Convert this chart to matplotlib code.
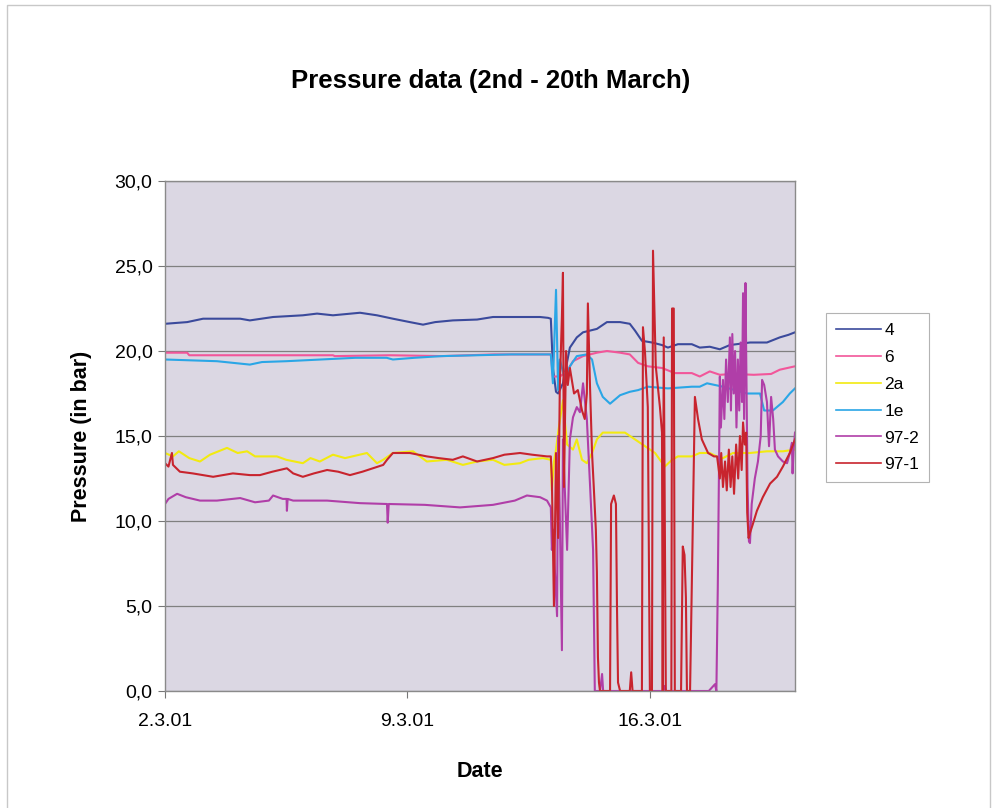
import matplotlib
matplotlib.use("Agg")
import matplotlib.pyplot as plt
from matplotlib.lines import Line2D

plt.rcParams['font.family'] = ['Liberation Sans', 'DejaVu Sans']

# x values are days after 2.3.01 00:00, y values are pressure in bar
tick_days = [0, 7, 14]
tick_labels = ['2.3.01', '9.3.01', '16.3.01']
x_end = 18.19

d_4 = [0, 0.64, 1.10, 2.17, 2.45, 3.12, 3.98, 4.39, 4.85, 5.63, 6.12, 6.58, 7.07, 7.45, 7.8,
       8.31, 9.01, 9.47, 10.25, 10.83, 11.06, 11.14, 11.20, 11.29, 11.35, 11.49, 11.69, 11.89,
       12.07, 12.47, 12.76, 13.14, 13.42, 13.57, 13.77, 14.06, 14.35, 14.52, 14.81, 15.21,
       15.44, 15.73, 16.02, 16.31, 16.89, 17.38, 17.75, 18.0, 18.19]
v_4 = [21.6, 21.7, 21.9, 21.9, 21.8, 22.0, 22.1, 22.2, 22.1, 22.25, 22.1, 21.9, 21.7, 21.55, 21.7,
       21.8, 21.85, 22.0, 22.0, 22.0, 21.95, 21.9, 19.0, 17.6, 17.5, 18.1, 20.2, 20.8,
       21.1, 21.3, 21.7, 21.7, 21.6, 21.2, 20.6, 20.5, 20.35, 20.2, 20.4, 20.4,
       20.2, 20.25, 20.1, 20.35, 20.5, 20.5, 20.8, 20.95, 21.1]

d_6 = [0, 0.64, 0.7, 4.85, 4.9, 6.5, 8.0, 9.5, 11.14, 11.20, 11.40, 11.61, 11.78, 12.07, 12.47,
       12.76, 13.14, 13.42, 13.66, 13.94, 14.35, 14.72, 15.21, 15.44, 15.73, 16.02, 16.4,
       17.0, 17.5, 17.75, 18.19]
v_6 = [19.9, 19.9, 19.75, 19.75, 19.7, 19.75, 19.7, 19.8, 19.8, 18.5, 18.5, 18.8, 19.4, 19.7, 19.9,
       20.0, 19.9, 19.8, 19.3, 19.1, 19.0, 18.7, 18.7, 18.5, 18.8, 18.6, 18.65,
       18.6, 18.65, 18.9, 19.1]

d_2a = [0, 0.23, 0.4, 0.7, 1.01, 1.3, 1.79, 2.1, 2.37, 2.6, 3.23, 3.5, 3.98, 4.2, 4.47, 4.85,
        5.2, 5.83, 6.12, 6.3, 6.58, 7.16, 7.56, 8.14, 8.6, 9.01, 9.47, 9.8, 10.25, 10.5, 10.91,
        11.14, 11.17, 11.23, 11.29, 11.35, 11.49, 11.61, 11.78, 11.89, 12.04, 12.18, 12.33,
        12.47, 12.64, 13.02, 13.28, 13.57, 13.86, 14.15, 14.43, 14.64, 14.81, 15.21, 15.44,
        15.73, 16.02, 16.11, 16.4, 16.89, 17.38, 17.84, 18.19]
v_2a = [14.0, 13.8, 14.1, 13.7, 13.5, 13.9, 14.3, 14.0, 14.1, 13.8, 13.8, 13.6, 13.4, 13.7, 13.5, 13.9,
        13.7, 14.0, 13.4, 13.6, 14.0, 14.1, 13.5, 13.6, 13.3, 13.5, 13.6, 13.3, 13.4, 13.6, 13.7,
        13.6, 11.8, 13.5, 14.2, 15.2, 17.1, 14.5, 14.2, 14.8, 13.6, 13.4, 14.0,
        14.8, 15.2, 15.2, 15.2, 14.8, 14.4, 14.0, 13.2, 13.6, 13.8, 13.8, 14.0,
        14.0, 13.7, 13.7, 14.0, 14.0, 14.1, 14.1, 14.2]

d_1e = [0, 1.5, 2.45, 2.8, 3.5, 4.5, 5.5, 6.4, 6.58, 7.2, 8.0, 9.0, 10.0, 11.14, 11.20, 11.29,
        11.35, 11.40, 11.55, 11.69, 11.89, 12.18, 12.33, 12.47, 12.64, 12.85, 13.14, 13.42,
        13.66, 13.94, 14.52, 15.21, 15.44, 15.65, 16.11, 16.8, 17.18, 17.3, 17.55, 17.84,
        18.04, 18.19]
v_1e = [19.5, 19.4, 19.2, 19.35, 19.4, 19.5, 19.6, 19.6, 19.5, 19.6, 19.7, 19.75, 19.8, 19.8, 18.1, 23.6,
        17.7, 19.5, 18.3, 19.1, 19.7, 19.8, 19.5, 18.1, 17.3, 16.9, 17.4, 17.6,
        17.7, 17.9, 17.8, 17.9, 17.9, 18.1, 17.9, 17.5, 17.5, 16.5, 16.5, 17.0,
        17.5, 17.8]

d_97_2 = [0, 0.1, 0.35, 0.6, 1.01, 1.5, 2.17, 2.6, 3.0, 3.12, 3.4, 3.51, 3.52, 3.54, 3.7, 4.68,
          5.63, 6.41, 6.43, 6.46, 7.5, 8.52, 9.47, 10.1, 10.45, 10.83, 11.03, 11.14, 11.17,
          11.20, 11.32, 11.35, 11.40, 11.46, 11.49, 11.61, 11.69, 11.78, 11.89, 11.98, 12.07,
          12.18, 12.27, 12.36, 12.41, 12.56, 12.62, 12.65, 14.4, 14.43, 14.46, 15.7, 15.88,
          15.92, 15.96, 16.0, 16.02, 16.05, 16.11, 16.15, 16.2, 16.25, 16.31, 16.34, 16.38,
          16.42, 16.46, 16.5, 16.54, 16.58, 16.62, 16.66, 16.69, 16.72, 16.76, 16.79, 16.82,
          16.86, 16.89, 16.94, 17.03, 17.12, 17.2, 17.24, 17.3, 17.38, 17.44, 17.5, 17.56,
          17.61, 17.7, 17.84, 17.96, 18.04, 18.1, 18.12, 18.15, 18.19]
v_97_2 = [11.0, 11.3, 11.6, 11.4, 11.2, 11.2, 11.35, 11.1, 11.2, 11.5, 11.3, 11.3, 10.6, 11.3, 11.2, 11.2,
          11.05, 11.0, 9.9, 11.0, 10.95, 10.8, 10.95, 11.2, 11.5, 11.4, 11.2, 10.8, 8.3,
          9.5, 4.4, 15.0, 10.2, 2.4, 14.8, 8.3, 14.8, 16.1, 16.7, 16.4, 18.1,
          16.0, 12.2, 8.3, 0.0, 0.0, 1.0, 0.0, 0.0, 0.3, 0.0, 0.0, 0.4,
          0.0, 6.0, 14.0, 18.5, 15.5, 18.3, 16.0, 19.5, 17.0, 20.8, 16.5, 21.0,
          17.5, 20.0, 15.5, 19.5, 16.5, 20.5, 17.0, 23.4, 16.0, 24.0, 18.0, 12.0,
          8.8, 8.7, 11.0, 12.5, 13.5, 15.0, 18.3, 18.0, 17.0, 14.4, 17.3, 16.0,
          14.2, 13.8, 13.5, 13.4, 14.0, 14.6, 12.8, 14.2, 15.2]

d_97_1 = [0, 0.1, 0.2, 0.23, 0.43, 0.8, 1.39, 1.96, 2.45, 2.74, 3.1, 3.52, 3.7, 3.98, 4.3, 4.68,
          5.0, 5.34, 5.7, 6.0, 6.3, 6.41, 6.58, 7.07, 7.56, 7.9, 8.31, 8.6, 9.01, 9.47, 9.8,
          10.25, 10.6, 11.03, 11.14, 11.17, 11.23, 11.29, 11.35, 11.40, 11.46, 11.49, 11.52,
          11.58, 11.63, 11.69, 11.81, 11.92, 12.04, 12.12, 12.18, 12.21, 12.27, 12.33, 12.38,
          12.44, 12.47, 12.50, 12.53, 12.56, 12.85, 12.88, 12.96, 13.02, 13.05, 13.08, 13.14,
          13.42, 13.46, 13.50, 13.77, 13.80, 13.86, 13.94, 14.0, 14.06, 14.09, 14.17, 14.29,
          14.35, 14.37, 14.40, 14.46, 14.62, 14.64, 14.69, 14.72, 14.90, 14.95, 15.0, 15.04,
          15.07, 15.16, 15.30, 15.39, 15.50, 15.68, 15.85, 15.94, 16.02, 16.06, 16.11, 16.17,
          16.22, 16.28, 16.33, 16.38, 16.43, 16.49, 16.55, 16.6, 16.65, 16.69, 16.74, 16.78,
          16.81, 16.85, 16.89, 16.97, 17.09, 17.26, 17.47, 17.67, 17.84, 18.04, 18.19]
v_97_1 = [13.4, 13.2, 14.0, 13.3, 12.9, 12.8, 12.6, 12.8, 12.7, 12.7, 12.9, 13.1, 12.8, 12.6, 12.8, 13.0,
          12.9, 12.7, 12.9, 13.1, 13.3, 13.6, 14.0, 14.0, 13.8, 13.7, 13.6, 13.8, 13.5, 13.7, 13.9,
          14.0, 13.9, 13.8, 13.8, 12.5, 5.0, 14.0, 9.0, 18.0, 22.0, 24.6, 12.0,
          20.0, 18.0, 19.0, 17.5, 17.7, 16.5, 16.0, 17.5, 22.8, 18.0, 14.0, 12.0,
          9.5, 7.0, 2.0, 0.5, 0.0, 0.0, 11.0, 11.5, 11.0, 5.0, 0.5, 0.0,
          0.0, 1.1, 0.0, 0.0, 21.4, 19.9, 16.7, 0.0, 0.0, 25.9, 19.1, 16.7,
          15.2, 0.0, 20.8, 0.0, 0.0, 22.5, 22.5, 0.0, 0.0, 8.5, 8.0, 5.5,
          0.0, 0.0, 17.3, 16.0, 14.8, 14.0, 13.8, 13.8, 12.5, 14.0, 12.0, 13.5,
          11.8, 14.2, 12.0, 13.8, 11.6, 14.5, 12.5, 15.0, 13.0, 15.8, 14.5, 15.2,
          10.5, 9.0, 9.3, 9.8, 10.6, 11.4, 12.2, 12.6, 13.2, 14.0, 14.8]

series = [
    ('4', d_4, v_4, '#3B4A9C'),
    ('6', d_6, v_6, '#F2569A'),
    ('2a', d_2a, v_2a, '#F2EA10'),
    ('1e', d_1e, v_1e, '#2AA6E6'),
    ('97-2', d_97_2, v_97_2, '#B03EA8'),
    ('97-1', d_97_1, v_97_1, '#C8242E'),
]

fig = plt.figure(figsize=(9.99, 8.08), dpi=100, facecolor='white')
ax = fig.add_axes([165 / 999, 1 - 691 / 808, 630 / 999, 510 / 808])
ax.set_facecolor('#DBD7E3')

for name, d, v, color in series:
    ax.plot(d, v, color=color, linewidth=1.5, label=name)

ax.set_xlim(0, x_end)
ax.set_ylim(0, 30)
ax.set_yticks([0, 5, 10, 15, 20, 25, 30])
ax.set_yticklabels(['0,0', '5,0', '10,0', '15,0', '20,0', '25,0', '30,0'], fontsize=14)
ax.set_xticks(tick_days)
ax.set_xticklabels(tick_labels, fontsize=14)
ax.tick_params(axis='y', direction='out', length=5, color='#777777', pad=4)
ax.tick_params(axis='x', direction='out', length=5, color='#777777', pad=11)
ax.yaxis.grid(True, color='#808080', linewidth=0.9)
ax.set_axisbelow(True)
for sp in ax.spines.values():
    sp.set_color('#8A8A8A')
    sp.set_linewidth(1.0)

ax.set_xlabel('Date', fontsize=15.5, fontweight='bold', labelpad=22)
ax.set_ylabel('Pressure (in bar)', fontsize=15.5, fontweight='bold', labelpad=16)
fig.text(491 / 999, 1 - 81 / 808, 'Pressure data (2nd - 20th March)',
         fontsize=18.5, fontweight='bold', ha='center', va='center')

leg = ax.legend(loc='upper left', bbox_to_anchor=(826 / 999, 1 - 313 / 808),
                bbox_transform=fig.transFigure, fontsize=12.5, frameon=True,
                fancybox=False, borderaxespad=0, handlelength=2.6, handletextpad=0.2,
                labelspacing=0.68, borderpad=0.55)
leg.get_frame().set_edgecolor('#A0A0A0')
leg.get_frame().set_linewidth(0.8)
for line in leg.get_lines():
    line.set_linewidth(1.2)

# thin outer frame of the chart object
fx = [7 / 999, 7 / 999, 990 / 999, 990 / 999]
fy = [0, 1 - 5 / 808, 1 - 5 / 808, 0]
fig.add_artist(Line2D(fx, fy, transform=fig.transFigure, color='#C8C8C8', linewidth=1.0))

fig.savefig('out.png', dpi=100, facecolor='white')
